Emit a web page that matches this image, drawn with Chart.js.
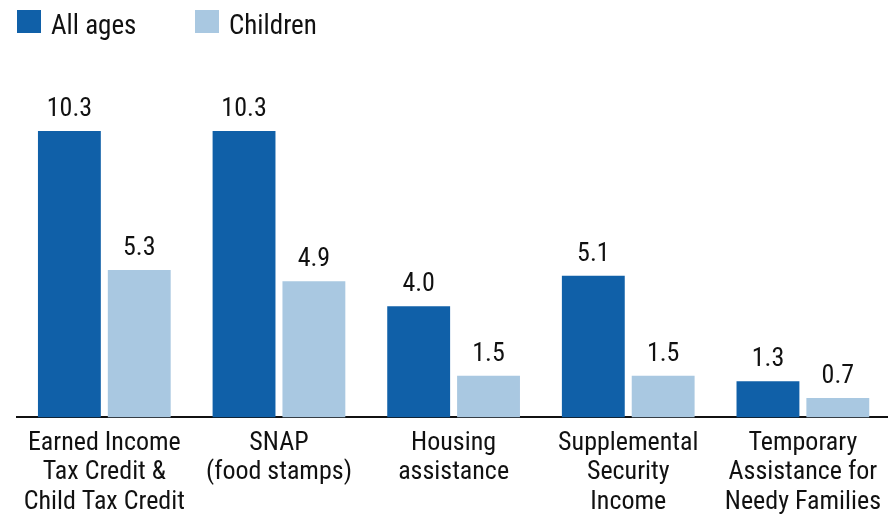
<!DOCTYPE html>
<html>
<head>
<meta charset="utf-8">
<script src="https://cdn.jsdelivr.net/npm/chart.js@4/dist/chart.umd.min.js"></script>
<style>
    html, body { margin: 0; padding: 0; background: #fff; overflow: hidden; }
    #wrap { width: 892px; height: 518px; }
</style>
</head>
<body>
<div id="wrap"><canvas id="bar-chart"></canvas></div>
<script>
// Data ================================================================================================================
const categories = [
    ["Earned Income", "Tax Credit &", "Child Tax Credit"],
    ["SNAP", "(food stamps)"],
    ["Housing", "assistance"],
    ["Supplemental", "Security", "Income"],
    ["Temporary", "Assistance for", "Needy Families"]
];
const allAges = [10.3, 10.3, 4.0, 5.1, 1.3];
const children = [5.3, 4.9, 1.5, 1.5, 0.7];
// =====================================================================================================================

const FONT = "'Roboto Condensed', 'DejaVu Sans Condensed', sans-serif";
const DARK = "#1060a8";
const LIGHT = "#a9c8e1";
const INK = "#111";

// value labels above the bars
const valueLabels = {
    id: 'valueLabels',
    afterDatasetsDraw(chart) {
        const ctx = chart.ctx;
        ctx.save();
        ctx.font = "26px " + FONT;
        ctx.fillStyle = INK;
        ctx.textAlign = "center";
        ctx.textBaseline = "alphabetic";
        chart.data.datasets.forEach((ds, i) => {
            chart.getDatasetMeta(i).data.forEach((bar, j) => {
                ctx.fillText(ds.data[j].toFixed(1), bar.x, bar.y - 15);
            });
        });
        ctx.restore();
    }
};

// legend drawn at fixed spots in the top left corner
const topLegend = {
    id: 'topLegend',
    afterDraw(chart) {
        const ctx = chart.ctx;
        const spots = [17, 195];
        ctx.save();
        ctx.font = "27px " + FONT;
        ctx.textBaseline = "alphabetic";
        ctx.textAlign = "left";
        chart.data.datasets.forEach((ds, i) => {
            const x = spots[i];
            ctx.fillStyle = ds.backgroundColor;
            ctx.fillRect(x, 10, 24, 23);
            ctx.fillStyle = INK;
            ctx.fillText(ds.label, x + 34, 34);
        });
        ctx.restore();
    }
};

new Chart(document.getElementById("bar-chart"), {
    type: 'bar',
    data: {
        labels: categories,
        datasets: [
            { label: "All ages", backgroundColor: DARK, data: allAges },
            { label: "Children", backgroundColor: LIGHT, data: children }
        ]
    },
    options: {
        responsive: true,
        maintainAspectRatio: false,
        animation: false,
        layout: { padding: { left: 17, right: 0, top: 56, bottom: -10 } },
        datasets: { bar: { categoryPercentage: 0.8, barPercentage: 0.9 } },
        plugins: {
            legend: { display: false },
            tooltip: { enabled: false }
        },
        scales: {
            x: {
                grid: { display: false, drawTicks: false },
                border: { display: true, color: INK, width: 2 },
                ticks: {
                    color: INK,
                    padding: 11,
                    maxRotation: 0,
                    autoSkip: false,
                    font: { family: FONT, size: 26, lineHeight: 1.135 }
                }
            },
            y: {
                display: false,
                min: 0,
                max: 13
            }
        }
    },
    plugins: [valueLabels, topLegend]
});
</script>
</body>
</html>
